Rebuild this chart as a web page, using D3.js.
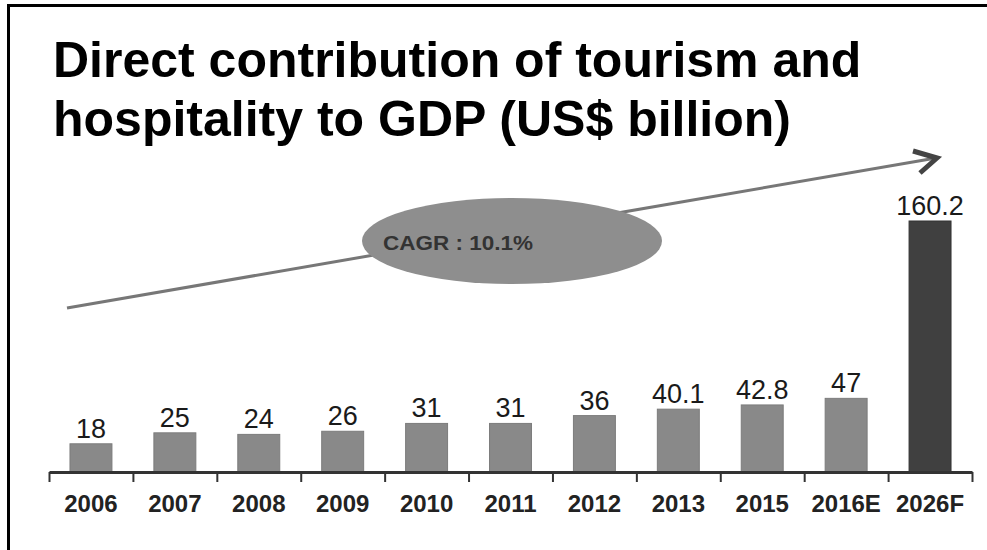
<!DOCTYPE html>
<html>
<head>
<meta charset="utf-8">
<script src="https://cdn.jsdelivr.net/npm/d3@7"></script>
<style>
  body { margin: 0; background: #fff; }
  svg { display: block; font-family: "Liberation Sans", Arial, sans-serif; }
</style>
</head>
<body>
<div id="chart"></div>
<script>
const categories = ["2006", "2007", "2008", "2009", "2010", "2011", "2012", "2013", "2015", "2016E", "2026F"];
const values = [18, 25, 24, 26, 31, 31, 36, 40.1, 42.8, 47, 160.2];
const valueLabels = ["18", "25", "24", "26", "31", "31", "36", "40.1", "42.8", "47", "160.2"];
const titleLines = ["Direct contribution of tourism and", "hospitality to GDP (US$ billion)"];
const cagrLabel = "CAGR : 10.1%";

const width = 987, height = 550;
const baseY = 472;

const svg = d3.select("#chart").append("svg")
  .attr("width", width)
  .attr("height", height);

// frame
svg.append("rect")
  .attr("x", 8.5).attr("y", 5.5)
  .attr("width", 1100).attr("height", 700)
  .attr("fill", "none")
  .attr("stroke", "#000")
  .attr("stroke-width", 3);

// title
svg.append("text")
  .attr("x", 53)
  .attr("font-size", 50)
  .attr("font-weight", "bold")
  .attr("fill", "#000")
  .selectAll("tspan")
  .data(titleLines)
  .join("tspan")
  .attr("x", 53)
  .attr("y", (d, i) => 77 + i * 59)
  .text(d => d);

const x = d3.scaleBand()
  .domain(categories)
  .range([49, 972])
  .paddingInner(0.5)
  .paddingOuter(0.25);

const y = d3.scaleLinear()
  .domain([0, d3.max(values)])
  .range([baseY, 221]);

// trend arrow (behind the ellipse)
svg.append("line")
  .attr("x1", 67).attr("y1", 308)
  .attr("x2", 936).attr("y2", 158)
  .attr("stroke", "#777")
  .attr("stroke-width", 3);

svg.append("path")
  .attr("d", "M913,151 L937,158 L920,173")
  .attr("fill", "none")
  .attr("stroke", "#444")
  .attr("stroke-width", 5)
  .attr("stroke-linejoin", "miter");

// CAGR bubble
svg.append("ellipse")
  .attr("cx", 512).attr("cy", 241)
  .attr("rx", 150).attr("ry", 43)
  .attr("fill", "#8e8e8e");

svg.append("text")
  .attr("x", 383).attr("y", 250)
  .attr("font-size", 20)
  .attr("font-weight", "bold")
  .attr("fill", "#333")
  .attr("textLength", 150)
  .attr("lengthAdjust", "spacingAndGlyphs")
  .text(cagrLabel);

// bars
const rows = categories.map((c, i) => ({ cat: c, value: values[i], label: valueLabels[i] }));

svg.append("g").selectAll("rect")
  .data(rows)
  .join("rect")
  .attr("x", d => x(d.cat))
  .attr("y", d => y(d.value))
  .attr("width", x.bandwidth())
  .attr("height", d => baseY - y(d.value))
  .attr("fill", (d, i) => i === rows.length - 1 ? "#404040" : "#898989")
  .attr("stroke", (d, i) => i === rows.length - 1 ? "#333" : "#7c7c7c")
  .attr("stroke-width", 1);

svg.append("g").selectAll("text")
  .data(rows)
  .join("text")
  .attr("x", d => x(d.cat) + x.bandwidth() / 2)
  .attr("y", d => y(d.value) - 6)
  .attr("text-anchor", "middle")
  .attr("font-size", 27)
  .attr("fill", "#1a1a1a")
  .text(d => d.label);

// axis: boundary ticks
const edge = d3.scaleLinear().domain([0, categories.length]).range([49, 972]);
const tickAxis = svg.append("g")
  .attr("transform", `translate(0,${baseY})`)
  .call(d3.axisBottom(edge)
    .tickValues(d3.range(categories.length + 1))
    .tickSize(10)
    .tickSizeOuter(0)
    .tickFormat(""));
tickAxis.select(".domain")
  .attr("stroke", "#333")
  .attr("stroke-width", 3);
tickAxis.selectAll(".tick line")
  .attr("stroke", "#333")
  .attr("stroke-width", 2);

// axis: category labels
const labelAxis = svg.append("g")
  .attr("transform", `translate(0,${baseY})`)
  .call(d3.axisBottom(x).tickSize(0));
labelAxis.select(".domain").remove();
labelAxis.selectAll("text")
  .attr("y", 40)
  .attr("dy", 0)
  .attr("font-size", 24)
  .attr("font-weight", "bold")
  .attr("font-family", "Liberation Sans, Arial, sans-serif")
  .attr("fill", "#222");
</script>
</body>
</html>
